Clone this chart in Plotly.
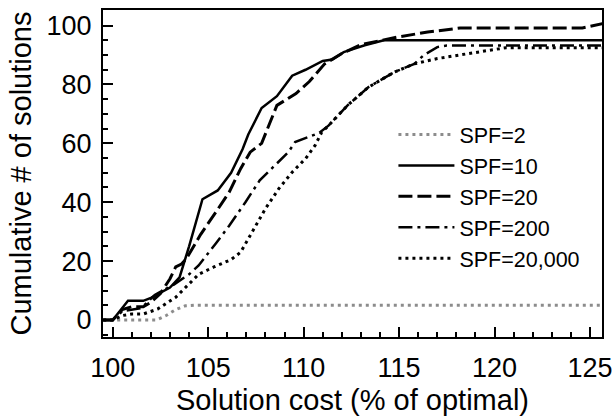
import plotly.graph_objects as go

# ---- data ----
spf2_x = [99.5, 100, 102.3, 102.8, 103.3, 103.8, 104.3, 125.7]
spf2_y = [0, 0, 0, 1.5, 3.5, 4.8, 5, 5]

spf10_x = [99.5, 100, 100.8, 101.6, 102.0, 102.4, 103.0, 103.5, 104.0, 104.7, 105.5, 106.2,
           106.8, 107.1, 107.8, 108.6, 109.4, 110.1, 111.0, 111.5, 112.1, 113.2, 114.2, 125.7]
spf10_y = [0, 0, 6.5, 6.5, 7.5, 8.8, 11, 14.5, 25, 41, 44, 50,
           58, 63, 72, 76, 83, 85, 88, 88.5, 91, 93.3, 95, 95]

spf20_x = [99.5, 100, 100.5, 101.0, 101.6, 102.0, 102.5, 103.0, 103.3, 103.6, 103.85, 104.6,
           105.4, 106.1, 106.7, 107.2, 107.8, 108.3, 108.6, 109.6, 110.3, 111.1, 112.0, 113.0,
           114.0, 114.9, 116.5, 118.2, 124.6, 125.7]
spf20_y = [0, 0, 3.5, 4.5, 4.5, 6, 9, 14, 18, 19, 20.7, 29,
           36.6, 43.4, 51.4, 57, 60, 68.4, 72.9, 76.9, 81, 87, 90.5, 93.5,
           95, 96.1, 97.8, 99.2, 99.2, 100.7]

spf200_x = [99.5, 100, 100.5, 101.5, 102.2, 103.2, 104.0, 104.5, 105.4, 106.1, 106.95, 107.7,
            108.4, 109.2, 109.55, 110.2, 110.8, 111.3, 112.3, 113.4, 114.75, 115.8, 116.3,
            117.0, 117.5, 125.7]
spf200_y = [0, 0, 3, 4, 8.5, 12, 15.5, 18.5, 26, 32, 40, 47.4,
            51.9, 57, 60.4, 62.1, 63.5, 66, 72.9, 79.1, 84.2, 87, 90,
            92.7, 93.2, 93.2]

spf20000_x = [99.5, 100, 100.5, 101.0, 101.6, 102.35, 103.3, 104.5, 105.3, 106.2, 106.7, 107.3,
              108.0, 108.7, 109.4, 110.1, 110.6, 110.95, 111.3, 112.3, 113.4, 114.75, 115.8,
              117.0, 119.1, 120.6, 125.7]
spf20000_y = [0, 0, 1.5, 2, 2, 3.7, 7.7, 15.5, 18, 20.5, 23, 29.8,
              37.8, 44.6, 50.2, 54.8, 59.3, 63.8, 66, 72.9, 79.1, 84.2, 87,
              88.8, 91, 92.5, 92.5]

series_names = ["SPF=2", "SPF=10", "SPF=20", "SPF=200", "SPF=20,000"]
x_ticks = [100, 105, 110, 115, 120, 125]
y_ticks = [0, 20, 40, 60, 80, 100]

FONT = "Liberation Sans, Arial, Helvetica, sans-serif"

fig = go.Figure()
styles = [
    (spf2_x, spf2_y, dict(color="#8c8c8c", width=3, dash="3px,4px")),
    (spf10_x, spf10_y, dict(color="black", width=2.5, dash="solid")),
    (spf20_x, spf20_y, dict(color="black", width=3, dash="14px,5px")),
    (spf200_x, spf200_y, dict(color="black", width=2.5, dash="14px,5px,3px,5px")),
    (spf20000_x, spf20000_y, dict(color="black", width=3, dash="3px,4px")),
]
for (xs, ys, ln), name in zip(styles, series_names):
    fig.add_trace(go.Scatter(x=xs, y=ys, mode="lines", name=name, line=ln))

fig.update_layout(
    width=615, height=419,
    margin=dict(l=103, r=12.5, t=10, b=82, autoexpand=False),
    paper_bgcolor="white", plot_bgcolor="white",
    font=dict(family=FONT, color="black"),
    showlegend=True,
    legend=dict(
        x=0.582, y=0.682, xanchor="left", yanchor="top",
        bgcolor="rgba(0,0,0,0)", font=dict(size=21.5, family=FONT),
        itemwidth=56, tracegroupgap=0,
    ),
    xaxis=dict(
        range=[99.49, 125.63], tickvals=x_ticks, ticktext=[str(v) for v in x_ticks],
        ticks="inside", ticklen=10, tickwidth=2, tickcolor="black",
        minor=dict(dtick=1, ticks="inside", ticklen=5, tickwidth=1.5, tickcolor="black"),
        showline=True, linecolor="black", linewidth=2, mirror=True,
        showgrid=False, zeroline=False, ticklabeloverflow="allow", automargin=True,
        tickfont=dict(size=27), ticklabelstandoff=6,
        title=dict(text="Solution cost (% of optimal)", font=dict(size=29), standoff=7),
    ),
    yaxis=dict(
        range=[-5.8, 105.3], tickvals=y_ticks, ticktext=[str(v) for v in y_ticks],
        ticks="inside", ticklen=10, tickwidth=2, tickcolor="black",
        minor=dict(dtick=5, ticks="inside", ticklen=5, tickwidth=1.5, tickcolor="black"),
        showline=True, linecolor="black", linewidth=2, mirror=True,
        showgrid=False, zeroline=False, ticklabeloverflow="allow", automargin=True,
        tickfont=dict(size=27), ticklabelstandoff=4,
        title=dict(text="Cumulative # of solutions", font=dict(size=29), standoff=6),
    ),
)

fig.write_html("out.html")
